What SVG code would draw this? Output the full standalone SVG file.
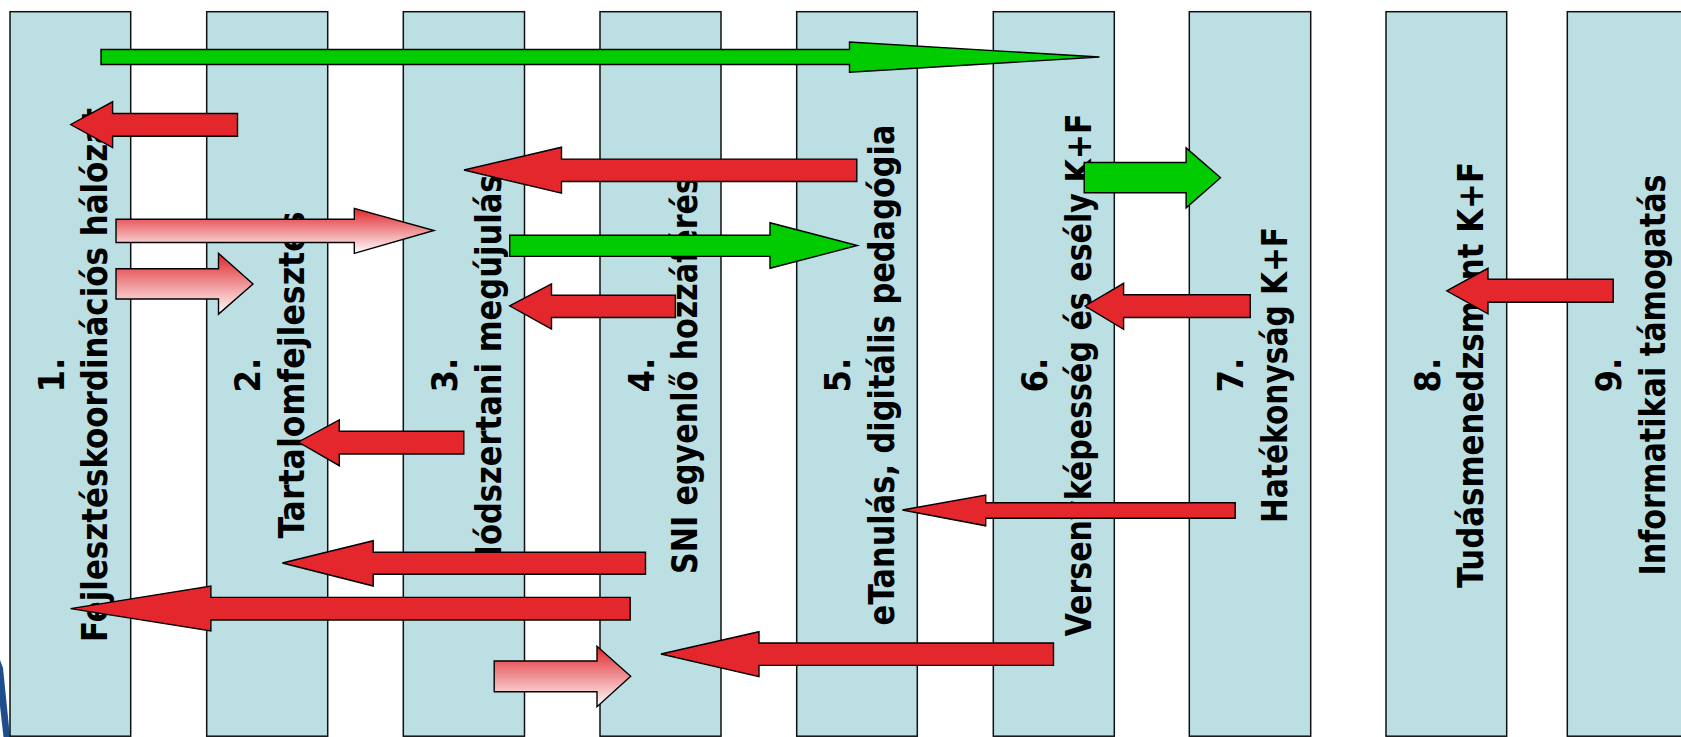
<svg xmlns="http://www.w3.org/2000/svg" width="1681" height="737" viewBox="0 0 1681 737">
<style>
.col{fill:#bbdfe3;stroke:#111;stroke-width:1.5}
.lbl{font-family:'DejaVu Sans Condensed','DejaVu Sans',Verdana,sans-serif;font-weight:bold;font-size:36px;fill:#000;text-anchor:middle}
.arr{stroke:#000;stroke-width:1.4;stroke-linejoin:miter}
.red{fill:#e4272d}
.green{fill:#00cc00}
.pink{fill:url(#pg)}
</style>
<defs>
<linearGradient id="pg" x1="0" y1="0" x2="0" y2="1">
<stop offset="0" stop-color="#e0262c"/>
<stop offset="1" stop-color="#ffffff"/>
</linearGradient>
</defs>
<rect width="1681" height="737" fill="#ffffff"/>
<path d="M0,660 L3,668 L10,737 L3.5,737 L0,706 Z" fill="#1f4e8c"/>
<g id="node1"><rect class="col" x="10" y="11.7" width="120.7" height="724.5"/>
<text class="lbl" transform="translate(63.5,375) rotate(-90)">1.</text>
<text class="lbl" transform="translate(107.3,375) rotate(-90)" textLength="534" lengthAdjust="spacingAndGlyphs">Fejlesztéskoordinációs hálózat</text></g>
<g id="node2"><rect class="col" x="206.7" y="11.7" width="121" height="724.5"/>
<text class="lbl" transform="translate(260.2,375) rotate(-90)">2.</text>
<text class="lbl" transform="translate(304,375) rotate(-90)" textLength="327" lengthAdjust="spacingAndGlyphs">Tartalomfejlesztés</text></g>
<g id="node3"><rect class="col" x="403.3" y="11.7" width="121.2" height="724.5"/>
<text class="lbl" transform="translate(456.8,375) rotate(-90)">3.</text>
<text class="lbl" transform="translate(500.6,375) rotate(-90)" textLength="401" lengthAdjust="spacingAndGlyphs">Módszertani megújulás</text></g>
<g id="node4"><rect class="col" x="600" y="11.7" width="121" height="724.5"/>
<text class="lbl" transform="translate(653.5,375) rotate(-90)">4.</text>
<text class="lbl" transform="translate(697.3,375) rotate(-90)" textLength="398" lengthAdjust="spacingAndGlyphs">SNI egyenlő hozzáférés</text></g>
<g id="node5"><rect class="col" x="796.7" y="11.7" width="120.6" height="724.5"/>
<text class="lbl" transform="translate(850.2,375) rotate(-90)">5.</text>
<text class="lbl" transform="translate(894,375) rotate(-90)" textLength="501" lengthAdjust="spacingAndGlyphs">eTanulás, digitális pedagógia</text></g>
<g id="node6"><rect class="col" x="993.3" y="11.7" width="121" height="724.5"/>
<text class="lbl" transform="translate(1046.8,375) rotate(-90)">6.</text>
<text class="lbl" transform="translate(1090.6,375) rotate(-90)" textLength="523" lengthAdjust="spacingAndGlyphs">Versenyképesség és esély K+F</text></g>
<g id="node7"><rect class="col" x="1189.3" y="11.7" width="121.4" height="724.5"/>
<text class="lbl" transform="translate(1242.8,375) rotate(-90)">7.</text>
<text class="lbl" transform="translate(1286.6,375) rotate(-90)" textLength="296" lengthAdjust="spacingAndGlyphs">Hatékonyság K+F</text></g>
<g id="node8"><rect class="col" x="1386" y="11.7" width="120.7" height="724.5"/>
<text class="lbl" transform="translate(1439.5,375) rotate(-90)">8.</text>
<text class="lbl" transform="translate(1483.3,375) rotate(-90)" textLength="426" lengthAdjust="spacingAndGlyphs">Tudásmenedzsment K+F</text></g>
<g id="node9"><rect class="col" x="1567.3" y="11.7" width="121" height="724.5"/>
<text class="lbl" transform="translate(1620.8,375) rotate(-90)">9.</text>
<text class="lbl" transform="translate(1664.6,375) rotate(-90)" textLength="401" lengthAdjust="spacingAndGlyphs">Informatikai támogatás</text></g>
<g id="connectors">
<polygon class="arr green" points="101,49.5 849.5,49.5 849.5,42 1099.5,57 849.5,72.3 849.5,64.5 101,64.5"/>
<polygon class="arr red" points="70.7,124.5 112.6,101.8 112.6,113.5 237.5,113.5 237.5,136.2 112.6,136.2 112.6,147.5"/>
<polygon class="arr red" points="464,170 561.5,147.2 561.5,159.1 856.8,159.1 856.8,181.5 561.5,181.5 561.5,193.2"/>
<polygon class="arr pink" points="116,219.3 354.3,219.3 354.3,208.3 434,230.5 354.3,253.3 354.3,242.5 116,242.5"/>
<polygon class="arr pink" points="116,268.7 218.5,268.7 218.5,253.3 253,284 218.5,314.1 218.5,299 116,299"/>
<polygon class="arr green" points="509.7,235.2 770,235.2 770,222.7 857.4,245.5 770,268.3 770,256.4 509.7,256.4"/>
<polygon class="arr red" points="509.6,305.8 551.5,284 551.5,295.3 675.4,295.3 675.4,317.5 551.5,317.5 551.5,329"/>
<polygon class="arr green" points="1084.2,162.5 1186.1,162.5 1186.1,147.9 1220.5,177.7 1186.1,207.9 1186.1,192.8 1084.2,192.8"/>
<polygon class="arr red" points="1085,306 1123.6,283.3 1123.6,294.8 1250.3,294.8 1250.3,317.5 1123.6,317.5 1123.6,329.3"/>
<polygon class="arr red" points="1446.7,290.8 1488,268.3 1488,279.2 1613.2,279.2 1613.2,302.2 1488,302.2 1488,313.8"/>
<polygon class="arr red" points="298.3,442 339.3,420 339.3,431.2 463.8,431.2 463.8,454 339.3,454 339.3,465.7"/>
<polygon class="arr red" points="902.4,510 985.7,495.1 985.7,502.8 1235.2,502.8 1235.2,518.3 985.7,518.3 985.7,525.8"/>
<polygon class="arr red" points="282.4,563 373.2,540.7 373.2,552.2 645.5,552.2 645.5,574.2 373.2,574.2 373.2,586"/>
<polygon class="arr red" points="70.6,608.6 210.9,586 210.9,597.4 630.2,597.4 630.2,620 210.9,620 210.9,631"/>
<polygon class="arr pink" points="494.2,661 597,661 597,646.2 630.7,676.3 597,706.7 597,691.7 494.2,691.7"/>
<polygon class="arr red" points="661,654 759,631.7 759,643 1053.5,643 1053.5,665.4 759,665.4 759,676.7"/>
</g>
</svg>
